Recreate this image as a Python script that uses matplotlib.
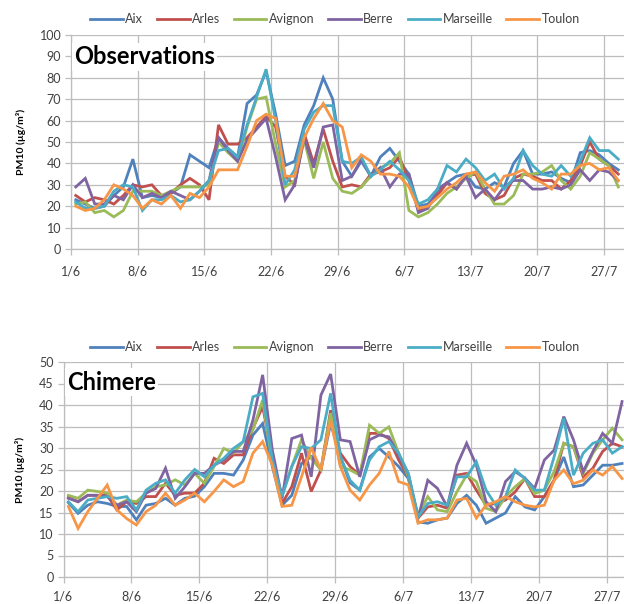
import numpy as np
import matplotlib
matplotlib.use("Agg")
import matplotlib.pyplot as plt

# --- Data (daily PM10, µg/m³, from 1/6) ---
stations = ["Aix", "Arles", "Avignon", "Berre", "Marseille", "Toulon"]
colors = ["#4F81BD", "#C0504D", "#9BBB59", "#8064A2", "#4BACC6", "#F79646"]

tick_labels = ["1/6", "8/6", "15/6", "22/6", "29/6", "6/7", "13/7", "20/7", "27/7"]

obs_aix = [23, 21, 19, 20, 25, 29, 42, 24, 25, 24, 26, 29, 44, 41, 38, 52, 47, 43, 68, 72,
           83, 63, 39, 41, 58, 67, 80, 70, 41, 34, 41, 34, 43, 47, 41, 35, 20, 21, 26, 31,
           34, 35, 29, 28, 31, 29, 40, 46, 35, 35, 36, 33, 31, 45, 46, 44, 40, 37]
obs_arles = [25, 22, 24, 23, 21, 25, 30, 29, 30, 25, 26, 30, 33, 30, 23, 58, 49, 49, 52, 57,
             62, 57, 34, 30, 54, 40, 56, 41, 29, 30, 29, 35, 36, 38, 43, 32, 18, 20, 25, 31,
             28, 34, 35, 26, 23, 25, 33, 35, 34, 32, 32, 28, 32, 39, 50, 42, 39, 35]
obs_avignon = [21, 22, 17, 18, 15, 18, 27, 27, 27, 25, 27, 29, 29, 29, 30, 50, 45, 41, 57, 70,
               71, 49, 29, 32, 51, 33, 50, 33, 27, 26, 29, 34, 38, 40, 45, 18, 15, 17, 21, 26,
               29, 33, 36, 28, 21, 21, 25, 35, 35, 36, 39, 32, 28, 34, 45, 42, 39, 29]
obs_berre = [29, 33, 21, 21, 25, 23, 30, 24, 26, 24, 27, 25, 23, 27, 32, 52, 46, 41, 51, 56,
             61, 43, 23, 30, 52, 38, 57, 58, 32, 34, 42, 34, 38, 29, 35, 35, 17, 19, 28, 31,
             28, 34, 24, 28, 23, 29, 32, 32, 28, 28, 29, 28, 30, 37, 32, 37, 36, 32]
obs_marseille = [22, 19, 19, 20, 27, 30, 29, 18, 23, 23, 25, 22, 23, 27, 32, 46, 47, 43, 58, 71,
                 84, 60, 30, 37, 56, 64, 67, 67, 41, 40, 43, 34, 37, 41, 37, 32, 21, 23, 28, 39,
                 36, 42, 38, 32, 35, 28, 33, 46, 39, 35, 34, 39, 34, 41, 52, 46, 46, 42]
obs_toulon = [20, 18, 19, 23, 30, 28, 25, 19, 23, 21, 25, 19, 26, 24, 29, 37, 37, 37, 48, 60,
              63, 61, 34, 34, 52, 61, 68, 60, 57, 38, 44, 41, 35, 35, 34, 29, 19, 20, 24, 28,
              31, 35, 36, 31, 27, 34, 35, 37, 33, 31, 28, 35, 35, 39, 40, 37, 38, 32]

chim_aix = [17.3, 14.8, 16.7, 17.5, 17.1, 16.4, 16.4, 13.3, 16.7, 17.1, 18.3, 16.7, 18.3, 18.8,
            21.0, 24.1, 24.1, 23.7, 27.2, 33.0, 35.7, 25.7, 16.7, 19.0, 26.4, 28.0, 24.9, 35.7,
            28.0, 21.9, 20.2, 27.9, 29.9, 27.9, 25.7, 22.9, 12.8, 12.5, 13.3, 13.7, 17.1, 19.0,
            16.7, 12.5, 13.7, 14.9, 18.7, 16.3, 15.6, 18.7, 22.5, 27.9, 21.0, 21.4, 23.7, 26.0,
            26.0, 26.4]
chim_arles = [18.5, 17.5, 19.0, 19.0, 19.0, 15.6, 17.5, 17.1, 18.7, 18.7, 21.8, 19.0, 19.5, 19.5,
              21.8, 27.6, 26.4, 28.4, 28.4, 34.6, 39.6, 28.0, 17.1, 21.0, 28.8, 19.9, 24.9, 38.8,
              28.8, 25.7, 23.7, 33.4, 33.4, 32.2, 27.2, 23.3, 13.7, 16.3, 16.7, 16.0, 23.7, 24.1,
              20.2, 16.7, 17.1, 17.9, 19.8, 22.9, 18.7, 18.7, 22.5, 31.1, 30.3, 23.3, 25.3, 29.2,
              31.1, 30.3]
chim_avignon = [19.0, 18.3, 20.2, 19.9, 19.5, 16.7, 17.9, 17.5, 19.5, 21.0, 21.4, 22.6, 21.4, 24.1,
                21.8, 25.7, 29.9, 28.8, 31.5, 34.2, 41.2, 26.4, 19.0, 25.7, 31.9, 27.6, 24.9, 38.1,
                25.7, 24.9, 23.7, 35.3, 33.4, 34.9, 28.8, 23.3, 14.4, 18.7, 15.6, 15.2, 19.8, 23.7,
                22.2, 16.0, 15.2, 18.7, 21.0, 22.9, 19.4, 20.2, 24.5, 31.1, 30.3, 24.1, 28.8, 31.9,
                34.6, 31.9]
chim_berre = [18.3, 17.5, 19.0, 19.0, 18.7, 16.7, 17.5, 15.2, 19.5, 20.6, 25.3, 18.3, 21.0, 24.1,
              24.1, 26.0, 27.2, 29.2, 29.2, 36.5, 47.0, 29.5, 18.3, 32.2, 33.0, 23.3, 42.3, 47.2,
              31.9, 31.5, 23.3, 31.9, 33.0, 32.6, 28.3, 24.0, 13.7, 22.5, 20.6, 16.3, 26.0, 31.1,
              26.0, 17.5, 15.2, 22.2, 24.5, 23.0, 20.6, 27.2, 29.5, 37.3, 31.9, 24.5, 29.2, 33.4,
              31.1, 40.8]
chim_marseille = [17.5, 15.2, 17.9, 18.3, 18.7, 18.3, 18.7, 15.6, 20.2, 21.8, 22.6, 19.5, 22.6, 25.0,
                  23.3, 26.0, 27.6, 29.9, 31.5, 41.9, 42.7, 27.2, 18.7, 25.7, 30.3, 29.9, 31.9, 42.7,
                  28.0, 22.5, 20.2, 27.2, 30.3, 31.5, 28.8, 24.1, 14.0, 17.1, 17.5, 16.7, 23.3, 23.3,
                  26.8, 20.2, 16.7, 18.7, 24.9, 22.9, 20.2, 20.2, 27.9, 36.9, 23.7, 28.8, 31.1, 31.9,
                  28.8, 30.3]
chim_toulon = [16.4, 11.3, 15.2, 18.3, 21.4, 15.6, 13.6, 12.1, 15.2, 16.7, 19.5, 16.7, 17.9, 19.5,
               17.5, 19.9, 22.6, 21.0, 22.2, 28.8, 31.5, 26.0, 16.4, 16.7, 23.3, 30.1, 24.9, 36.5,
               25.7, 20.2, 17.9, 21.4, 24.1, 29.2, 22.2, 21.4, 12.5, 13.3, 13.3, 13.7, 17.9, 18.3,
               13.7, 16.7, 17.5, 18.7, 17.5, 16.7, 16.3, 16.7, 22.5, 24.9, 21.7, 22.5, 24.9, 23.7,
               25.7, 22.9]

obs = [obs_aix, obs_arles, obs_avignon, obs_berre, obs_marseille, obs_toulon]
chim = [chim_aix, chim_arles, chim_avignon, chim_berre, chim_marseille, chim_toulon]

plt.rcParams["font.family"] = ["Lato", "DejaVu Sans"]
GRID = "#BDBDBD"
TXT = "#404040"

fig = plt.figure(figsize=(6.24, 6.04), dpi=100, facecolor="white")


def panel(rect, series, ymax, ystep, xmax, title, title_xy, legend_y, xpad):
    ax = fig.add_axes(rect)
    for vals, name, c in zip(series, stations, colors):
        x = np.arange(len(vals)) + 0.5
        ax.plot(x, vals, color=c, lw=2.0, label=name, solid_joinstyle="miter")

    ax.set_xlim(0, xmax)
    ax.set_ylim(0, ymax)
    ax.set_xticks(np.arange(len(tick_labels)) * 7)
    ax.set_xticklabels(tick_labels)
    ax.set_yticks(np.arange(0, ymax + 1, ystep))
    ax.grid(True, color=GRID, lw=0.9)
    ax.set_axisbelow(True)
    for s in ["top", "right"]:
        ax.spines[s].set_visible(False)
    for s in ["left", "bottom"]:
        ax.spines[s].set_color(GRID)
        ax.spines[s].set_linewidth(0.9)
    ax.tick_params(axis="both", color=GRID, length=4, width=0.9,
                   labelsize=9, labelcolor=TXT)
    ax.tick_params(axis="x", pad=xpad)
    ax.tick_params(axis="y", pad=3)
    ax.set_ylabel("PM10 (µg/m³)", fontsize=7.5, fontweight="bold", labelpad=10)

    fig.text(title_xy[0], title_xy[1], title, fontsize=17, fontweight="bold",
             va="center", ha="left",
             bbox=dict(facecolor="white", edgecolor="none", pad=1.5))

    fig.legend(*ax.get_legend_handles_labels(), loc="center",
               bbox_to_anchor=(0.537, legend_y), ncol=6, frameon=False,
               fontsize=9, handlelength=2.6, handletextpad=0.2,
               columnspacing=1.1, labelcolor=TXT)
    return ax


panel([71 / 624, 1 - 249 / 604, (624 - 71) / 624, 214 / 604],
      obs, 100, 10, 58.1, "Observations", (74 / 624, 1 - 57 / 604), 1 - 19 / 604, 8)
panel([63.5 / 624, 1 - 577 / 604, (624 - 63.5) / 624, 215 / 604],
      chim, 50, 5, 57.7, "Chimere", (67 / 624, 1 - 382 / 604), 1 - 347 / 604, 6)

fig.savefig("out.png", dpi=100, facecolor="white")
